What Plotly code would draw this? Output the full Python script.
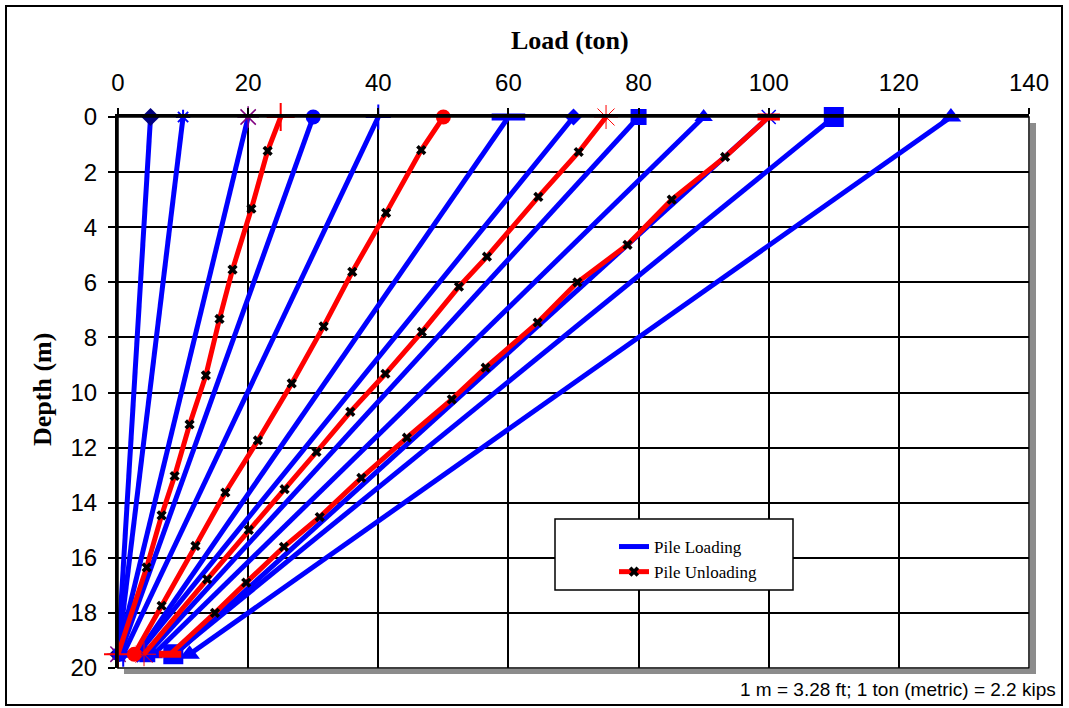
import plotly.graph_objects as go

# ---------------- data ----------------
depth_top = 0.0
depth_bottom = 19.5

# Pile loading lines (load at top, load at pile tip)
loading_top = [5, 10, 20, 30, 40, 60, 70, 80, 90, 100, 110, 128]
loading_bottom = [0, 0, 0, 0.3, 0.8, 3, 3, 4.5, 5.5, 8.8, 8.5, 11]

# Pile unloading lines
unloading_top = [25, 50, 75, 100]
unloading_bottom = [0, 2.5, 4, 8]

# intermediate measured points on the unloading lines
u25_load = [23.0, 20.5, 17.6, 15.6, 13.5, 11.0, 8.7, 6.7, 4.4]
u25_depth = [1.23, 3.33, 5.54, 7.33, 9.38, 11.16, 13.03, 14.46, 16.35]
u50_load = [46.6, 41.2, 36.0, 31.6, 26.7, 21.5, 16.5, 11.9, 6.7]
u50_depth = [1.2, 3.48, 5.62, 7.6, 9.67, 11.74, 13.63, 15.57, 17.74]
u75_load = [70.8, 64.6, 56.7, 52.4, 46.7, 41.1, 35.7, 30.5, 25.6, 20.1, 13.7]
u75_depth = [1.27, 2.9, 5.07, 6.16, 7.8, 9.32, 10.7, 12.16, 13.51, 14.99, 16.78]
u100_load = [93.3, 85.1, 78.3, 70.6, 64.5, 56.5, 51.3, 44.4, 37.4, 31.0, 25.5, 19.7, 14.9]
u100_depth = [1.45, 3.0, 4.64, 6.0, 7.46, 9.1, 10.25, 11.64, 13.1, 14.52, 15.6, 16.9, 18.0]

unloading_points = [(u25_load, u25_depth), (u50_load, u50_depth),
                    (u75_load, u75_depth), (u100_load, u100_depth)]

x_ticks = [0, 20, 40, 60, 80, 100, 120, 140]
y_ticks = [0, 2, 4, 6, 8, 10, 12, 14, 16, 18, 20]

x_title = "Load (ton)"
y_title = "Depth (m)"
legend_names = ["Pile Loading", "Pile Unloading"]
footnote = "1 m = 3.28 ft; 1 ton (metric) = 2.2 kips"

# ---------------- styles ----------------
BLUE = "#0000FF"
RED = "#FF0000"
loading_styles = [
    dict(symbol="diamond", color="#000080", size=14, lw=0),
    dict(symbol="asterisk-open", color=BLUE, size=12, lw=2),
    dict(symbol="asterisk-open", color="#800080", size=18, lw=1.5),
    dict(symbol="circle", color=BLUE, size=15, lw=0),
    dict(symbol="cross-thin-open", color=BLUE, size=18, lw=2),
    dict(symbol="line-ew-open", color=BLUE, size=24, lw=7),
    dict(symbol="diamond", color=BLUE, size=13, lw=0),
    dict(symbol="square", color=BLUE, size=16, lw=0),
    dict(symbol="triangle-up", color=BLUE, size=16, lw=0),
    dict(symbol="x-thin-open", color=BLUE, size=14, lw=1.5),
    dict(symbol="square", color=BLUE, size=20, lw=0),
    dict(symbol="triangle-up", color=BLUE, size=18, lw=0),
]
unloading_styles = [
    dict(symbol="cross-thin-open", color=RED, size=20, lw=2),
    dict(symbol="circle", color=RED, size=15, lw=0),
    dict(symbol="asterisk-open", color=RED, size=20, lw=1),
    dict(symbol="line-ew-open", color=RED, size=16, lw=7),
]

fig = go.Figure()

# loading lines
for top, bot, st in zip(loading_top, loading_bottom, loading_styles):
    fig.add_trace(go.Scatter(
        x=[top, bot], y=[depth_top, depth_bottom], mode="lines+markers",
        line=dict(color=BLUE, width=5), cliponaxis=False,
        marker=dict(symbol=st["symbol"], color=st["color"], size=st["size"],
                    line=dict(color=st["color"], width=st["lw"])),
        showlegend=False, hoverinfo="x+y"))

# unloading lines
for top, bot, (pl, pd), st in zip(unloading_top, unloading_bottom, unloading_points, unloading_styles):
    fig.add_trace(go.Scatter(
        x=[top] + pl + [bot], y=[depth_top] + pd + [depth_bottom], mode="lines",
        line=dict(color=RED, width=5), cliponaxis=False,
        showlegend=False, hoverinfo="x+y"))
    fig.add_trace(go.Scatter(
        x=[top, bot], y=[depth_top, depth_bottom], mode="markers", cliponaxis=False,
        marker=dict(symbol=st["symbol"], color=st["color"], size=st["size"],
                    line=dict(color=st["color"], width=st["lw"])),
        showlegend=False, hoverinfo="x+y"))
    fig.add_trace(go.Scatter(
        x=pl, y=pd, mode="markers", cliponaxis=False,
        marker=dict(symbol="x", color="black", size=9, line=dict(width=0)),
        showlegend=False, hoverinfo="x+y"))

# legend entries
fig.add_trace(go.Scatter(x=[None], y=[None], mode="lines", name=legend_names[0],
                         line=dict(color=BLUE, width=5)))
fig.add_trace(go.Scatter(x=[None], y=[None], mode="lines+markers", name=legend_names[1],
                         line=dict(color=RED, width=5),
                         marker=dict(symbol="x", color="black", size=9)))

# ---------------- layout ----------------
L, R, T, B = 118, 1029, 117, 668
W, H = 1069, 708
def px(x):
    return (x - L) / (R - L)
def py(y):
    return (B - y) / (B - T)

fig.update_layout(
    width=W, height=H,
    margin=dict(l=L, r=W - R, t=T, b=H - B),
    paper_bgcolor="white", plot_bgcolor="white",
    font=dict(family="Liberation Sans, Arial, sans-serif", color="black"),
    showlegend=True,
    legend=dict(x=px(614), y=py(529), xanchor="left", yanchor="top",
                bgcolor="rgba(0,0,0,0)", borderwidth=0,
                font=dict(family="Liberation Serif, Times New Roman, serif", size=17, color="black"),
                tracegroupgap=0, itemwidth=30),
    xaxis=dict(range=[0, 140], side="top", tickvals=x_ticks, ticktext=[str(v) for v in x_ticks],
               showgrid=True, gridcolor="black", gridwidth=1.5,
               showline=True, linecolor="black", linewidth=3,
               ticks="outside", ticklen=6, tickwidth=2, tickcolor="black",
               tickfont=dict(size=24), ticklabelstandoff=7, zeroline=False),
    yaxis=dict(range=[20, 0], tickvals=y_ticks, ticktext=[str(v) for v in y_ticks],
               showgrid=True, gridcolor="black", gridwidth=1.5,
               showline=True, linecolor="black", linewidth=3,
               ticks="outside", ticklen=7, tickwidth=2, tickcolor="black",
               tickfont=dict(size=24), ticklabelstandoff=6, zeroline=False),
)

shapes = [
    # grey drop shadow
    dict(type="rect", xref="paper", yref="paper", x0=px(1030), x1=px(1036), y0=py(673), y1=py(123),
         fillcolor="#8c8c8c", line=dict(width=0), layer="below"),
    dict(type="rect", xref="paper", yref="paper", x0=px(124), x1=px(1036), y0=py(674), y1=py(669),
         fillcolor="#8c8c8c", line=dict(width=0), layer="below"),
    # plot border (right & bottom)
    dict(type="rect", xref="paper", yref="paper", x0=0, x1=1, y0=0, y1=1,
         line=dict(color="black", width=1.5), layer="above"),
    # legend box
    dict(type="rect", xref="paper", yref="paper", x0=px(555), x1=px(793), y0=py(590), y1=py(519),
         fillcolor="white", line=dict(color="black", width=1.5), layer="above"),
    # outer frame
    dict(type="rect", xref="paper", yref="paper", x0=px(6), x1=px(1062), y0=py(705), y1=py(6),
         line=dict(color="black", width=2), layer="below"),
]
fig.update_layout(shapes=shapes)

fig.add_annotation(text="<b>" + x_title + "</b>", xref="paper", yref="paper",
                   x=px(570), y=py(40), showarrow=False, xanchor="center", yanchor="middle",
                   font=dict(family="Liberation Serif, Times New Roman, serif", size=26))
fig.add_annotation(text="<b>" + y_title + "</b>", xref="paper", yref="paper",
                   x=px(42), y=py(390), showarrow=False, xanchor="center", yanchor="middle",
                   textangle=-90,
                   font=dict(family="Liberation Serif, Times New Roman, serif", size=26))
fig.add_annotation(text=footnote, xref="paper", yref="paper",
                   x=px(1058), y=py(689), showarrow=False, xanchor="right", yanchor="middle",
                   font=dict(family="Liberation Sans, Arial, sans-serif", size=19))

fig.write_html("out.html", config={"displayModeBar": False},
               post_script="document.body.style.margin='0';document.body.style.overflow='hidden';")
